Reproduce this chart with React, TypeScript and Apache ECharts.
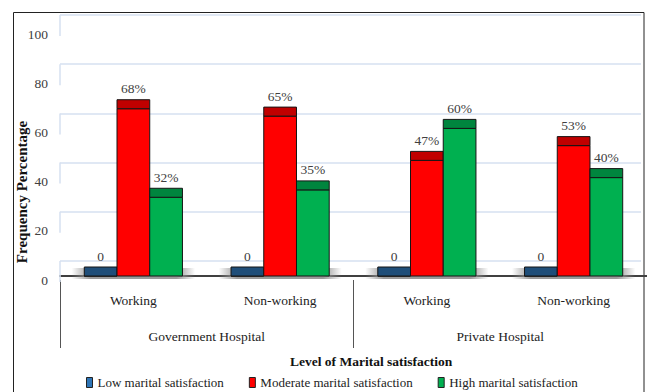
import React, { useEffect, useRef } from "react";
import * as echarts from "echarts";

const CATEGORIES = ["Working", "Non-working", "Working", "Non-working"];
const GROUPS = ["Government Hospital", "Private Hospital"];
const SERIES_NAMES = [
  "Low marital satisfaction",
  "Moderate marital satisfaction",
  "High marital satisfaction",
];
const LOW = [0, 0, 0, 0];
const MODERATE = [68, 65, 47, 53];
const HIGH = [32, 35, 60, 40];
const Y_TICKS = [0, 20, 40, 60, 80, 100];

const FONT = '"Liberation Serif", "Times New Roman", serif';
const FRONT = ["#2E5C8F", "#FF0000", "#00B050"];
const CAP = ["#1F4E79", "#C00000", "#00853E"];
const LEGEND = ["#2E75B6", "#FF0000", "#00B050"];
const GRID_COLOR = "#D6E0F0";
const BAR_RATIO = 33 / 148;
const CAP_H = 9;

function barSeries(idx: number, values: number[]) {
  const offset = idx - 1;
  return {
    type: "custom",
    name: SERIES_NAMES[idx],
    xAxisIndex: 0,
    yAxisIndex: 0,
    z: 3,
    itemStyle: { color: LEGEND[idx], borderColor: "#222", borderWidth: 1 },
    data: values.map((v, i) => [i, v]),
    renderItem: (params: any, api: any) => {
      const ci = api.value(0);
      const v = api.value(1);
      const base = api.coord([ci, 0]);
      const top = api.coord([ci, v]);
      const w = api.size([1, 0])[0] * BAR_RATIO;
      const cx = base[0] + offset * w;
      const x0 = cx - w / 2;
      return {
        type: "group",
        children: [
          {
            type: "rect",
            shape: { x: x0, y: top[1], width: w, height: base[1] - top[1] },
            style: { fill: FRONT[idx], stroke: "#151515", lineWidth: 1 },
          },
          {
            type: "rect",
            shape: { x: x0, y: top[1] - CAP_H, width: w, height: CAP_H },
            style: { fill: CAP[idx], stroke: "#151515", lineWidth: 1 },
          },
          {
            type: "text",
            x: cx,
            y: top[1] - CAP_H - 11,
            style: {
              text: v === 0 ? "0" : v + "%",
              fill: "#404040",
              font: `13.5px ${FONT}`,
              align: "center",
              verticalAlign: "middle",
            },
          },
        ],
      };
    },
  };
}

export default function App() {
  const ref = useRef<HTMLDivElement>(null);
  useEffect(() => {
    if (!ref.current) return;
    const chart = echarts.init(ref.current, null, { renderer: "svg" });
    const option: any = {
      animation: false,
      backgroundColor: "#ffffff",
      title: {
        text: "Level of Marital satisfaction",
        left: 290,
        top: 354,
        padding: 0,
        textStyle: { fontFamily: FONT, fontSize: 13.5, fontWeight: "bold", color: "#111" },
      },
      legend: {
        data: SERIES_NAMES,
        left: 86,
        top: 376,
        padding: 0,
        icon: "rect",
        itemWidth: 6,
        itemHeight: 10,
        itemGap: 25,
        itemStyle: { borderColor: "#222", borderWidth: 1 },
        textStyle: { fontFamily: FONT, fontSize: 13, color: "#222" },
      },
      grid: [
        { left: 60, width: 592, top: 30, height: 246 },
        { left: 60, width: 581, top: 15, height: 246 },
        { left: 60, width: 592, top: 34, height: 246 },
      ],
      xAxis: [
        {
          type: "category",
          gridIndex: 0,
          data: CATEGORIES,
          position: "bottom",
          offset: 4,
          axisLine: { show: true, lineStyle: { color: "#404040", width: 2 } },
          axisTick: { show: false },
          axisLabel: { margin: 13, fontFamily: FONT, fontSize: 13.5, color: "#222" },
        },
        {
          type: "category",
          gridIndex: 0,
          data: GROUPS,
          position: "bottom",
          offset: 4,
          axisLine: { show: false },
          axisTick: { show: true, length: 68, interval: 0, lineStyle: { color: "#555", width: 1 } },
          axisLabel: { margin: 49, fontFamily: FONT, fontSize: 13.5, color: "#222" },
        },
        { type: "value", gridIndex: 1, min: 0, max: 1, show: false },
        { type: "value", gridIndex: 2, min: 0, max: 1, show: false },
      ],
      yAxis: [
        {
          type: "value",
          gridIndex: 0,
          min: 0,
          max: 100,
          interval: 20,
          show: false,
        },
        {
          type: "value",
          gridIndex: 1,
          min: 0,
          max: 100,
          interval: 20,
          axisLine: { show: false },
          axisTick: { show: false },
          axisLabel: { show: false },
          splitLine: { show: true, lineStyle: { color: GRID_COLOR, width: 1.5 } },
        },
        {
          type: "value",
          gridIndex: 2,
          min: 0,
          max: 100,
          interval: 20,
          axisLine: { show: false },
          axisTick: { show: false },
          splitLine: { show: false },
          axisLabel: {
            margin: 12,
            fontFamily: FONT,
            fontSize: 13.5,
            color: "#404040",
          },
        },
      ],
      graphic: [
        {
          type: "rect",
          shape: { x: 13.5, y: 12.5, width: 630.5, height: 400 },
          style: { fill: "none", stroke: "#222", lineWidth: 1 },
          silent: true,
        },
        {
          type: "text",
          x: 22,
          y: 192,
          rotation: Math.PI / 2,
          style: {
            text: "Frequency Percentage",
            font: `bold 15px ${FONT}`,
            fill: "#111",
            align: "center",
            verticalAlign: "middle",
          },
        },
      ],
      series: [
        {
          type: "custom",
          name: "wall",
          xAxisIndex: 2,
          yAxisIndex: 1,
          z: 1,
          silent: true,
          data: Y_TICKS.map((t) => [0, t]),
          renderItem: (params: any, api: any) => {
            const p = api.coord([0, api.value(1)]);
            return {
              type: "line",
              shape: { x1: p[0], y1: p[1], x2: p[0], y2: p[1] + 21 },
              style: { stroke: GRID_COLOR, lineWidth: 1.5 },
            };
          },
        },
        {
          type: "custom",
          name: "floor",
          xAxisIndex: 0,
          yAxisIndex: 0,
          z: 2,
          silent: true,
          data: CATEGORIES.map((_, i) => [i, 0]),
          renderItem: (params: any, api: any) => {
            const b = api.coord([api.value(0), 0]);
            const half = api.size([1, 0])[0] * 0.42;
            return {
              type: "rect",
              shape: { x: b[0] - half, y: b[1] - 8, width: half * 2, height: 11 },
              style: {
                fill: new echarts.graphic.LinearGradient(0, 0, 1, 0, [
                  { offset: 0, color: "rgba(150,150,150,0)" },
                  { offset: 0.15, color: "#9a9a9a" },
                  { offset: 0.85, color: "#9a9a9a" },
                  { offset: 1, color: "rgba(150,150,150,0)" },
                ]),
              },
            };
          },
        },
        barSeries(0, LOW),
        barSeries(1, MODERATE),
        barSeries(2, HIGH),
      ],
    };
    chart.setOption(option);
    return () => chart.dispose();
  }, []);
  return (
    <div
      ref={ref}
      style={{ position: "absolute", left: 0, top: 0, width: 647, height: 392 }}
    />
  );
}
